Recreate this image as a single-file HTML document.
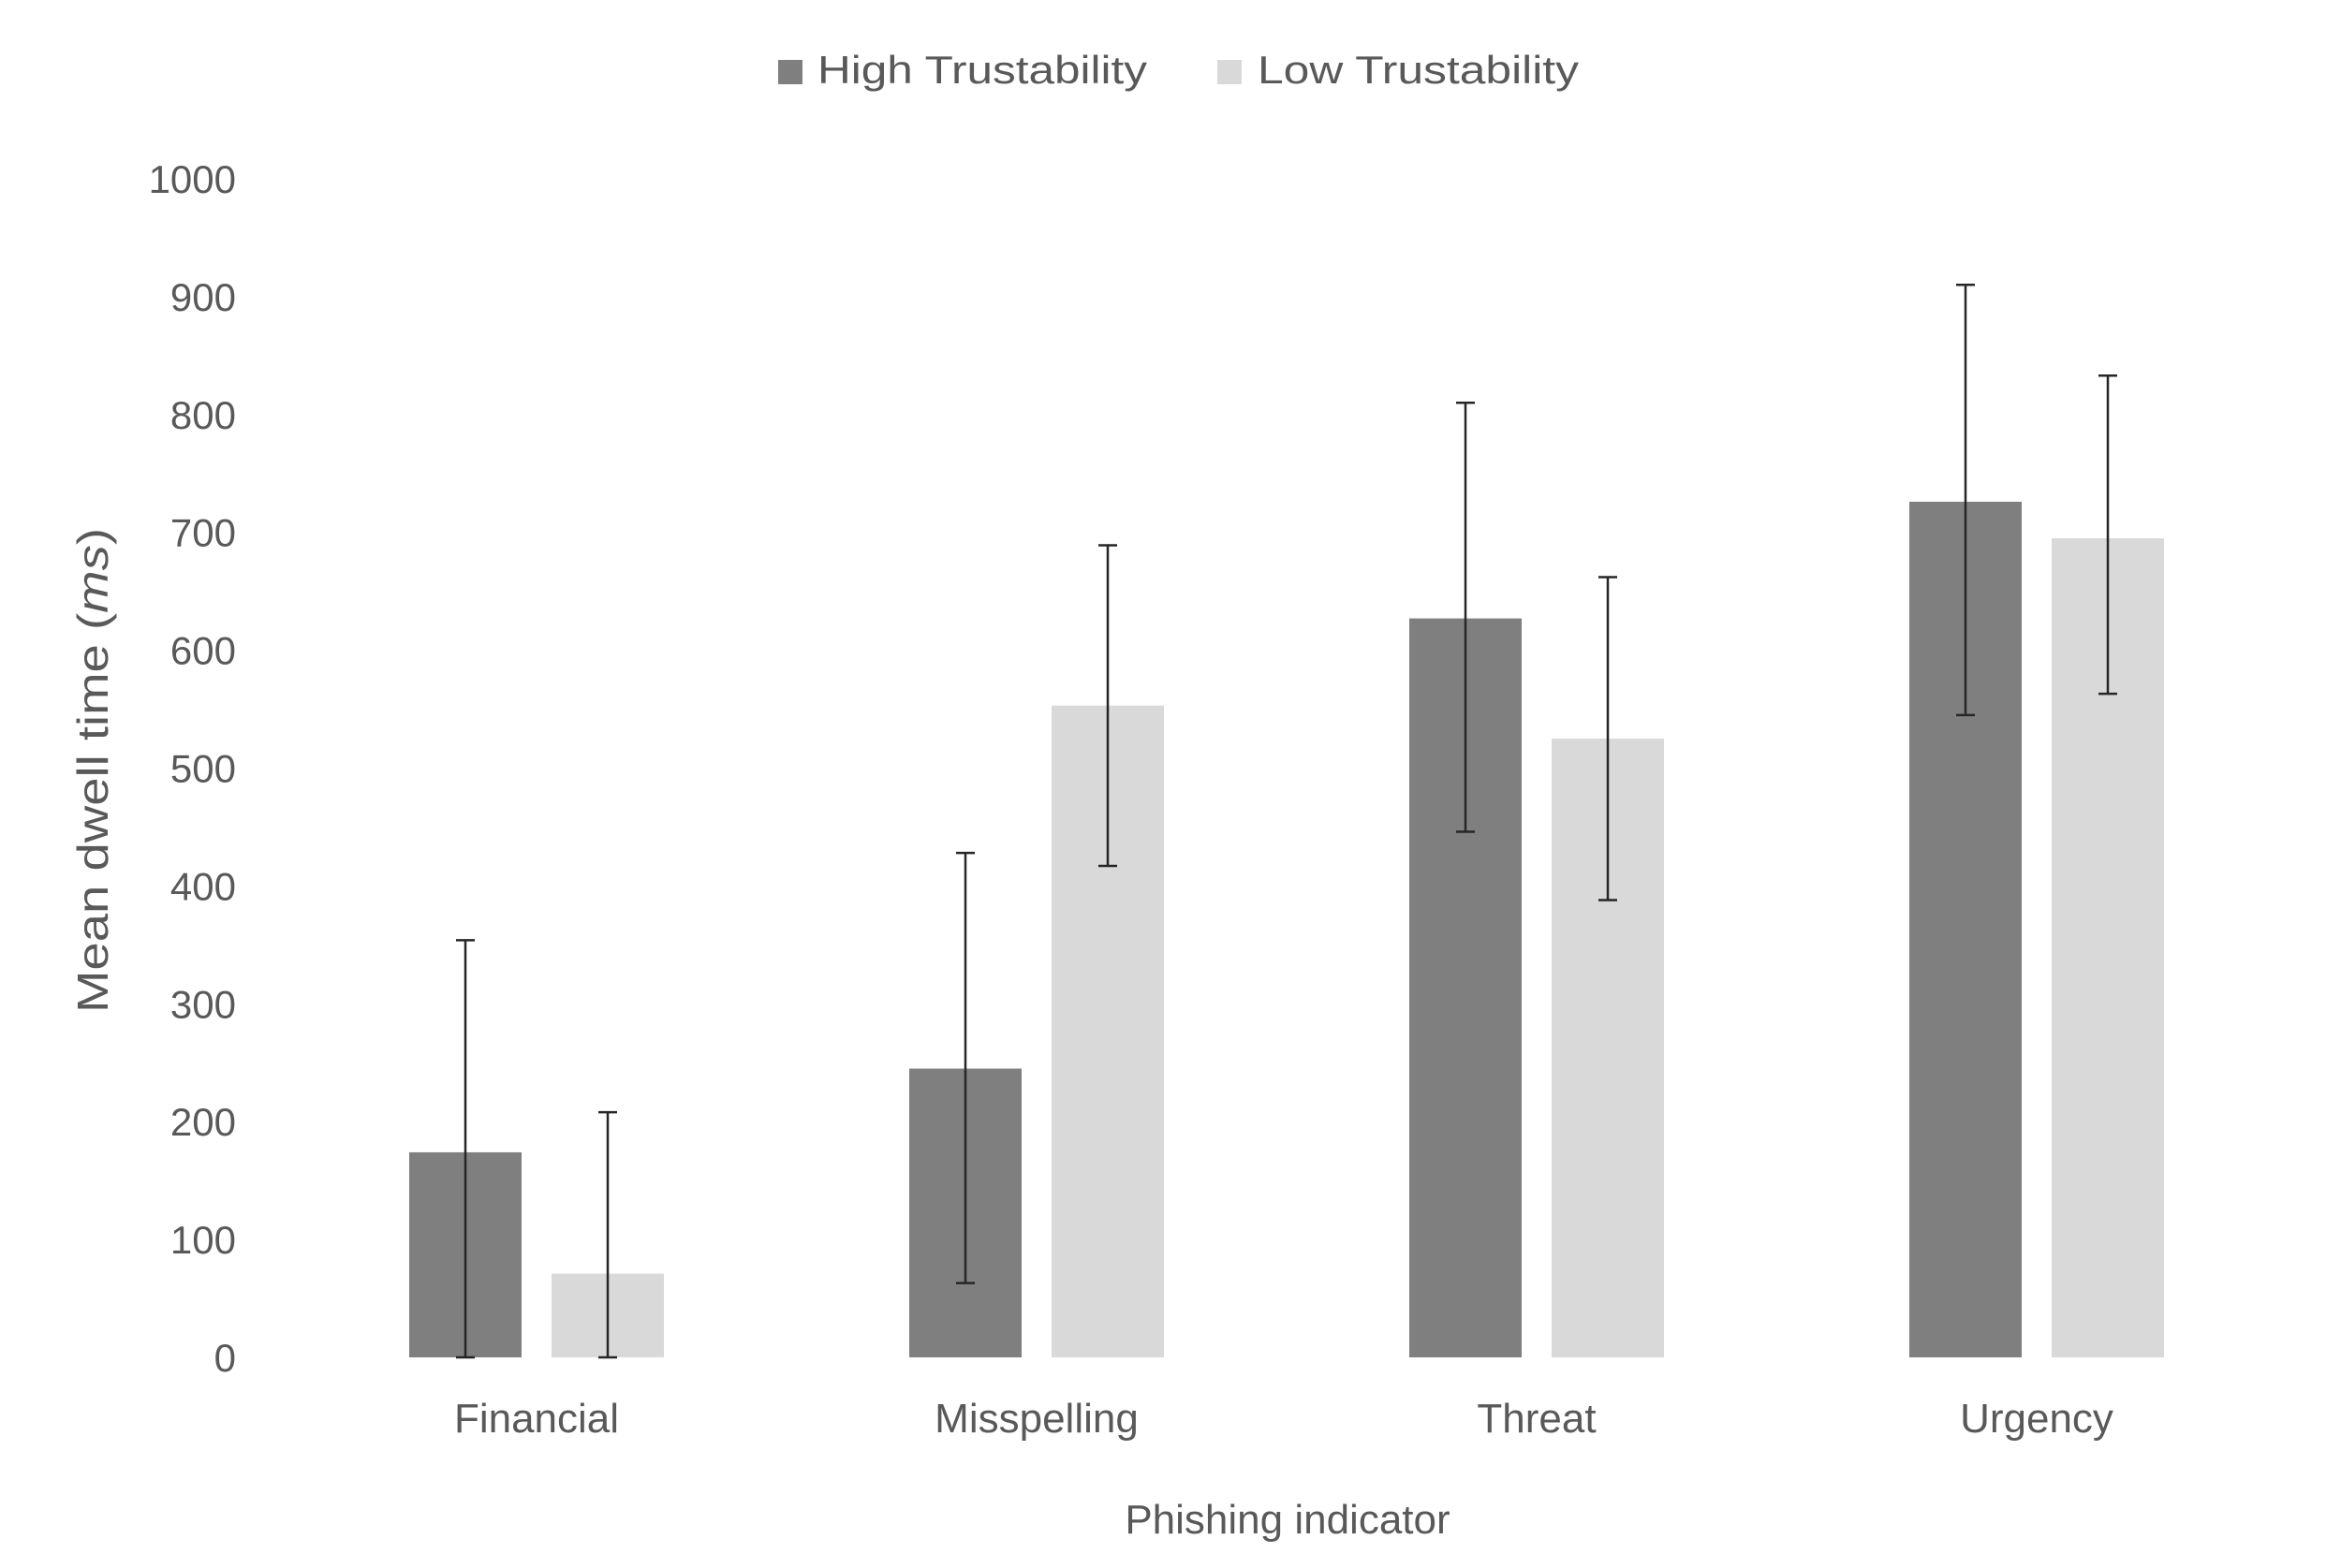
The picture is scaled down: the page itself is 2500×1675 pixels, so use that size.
<!DOCTYPE html>
<html><head><meta charset="utf-8"><style>
html,body{margin:0;padding:0;background:#fff;}
svg{display:block;font-family:"Liberation Sans",sans-serif;}
</style></head><body>
<svg id="chart" width="2500" height="1675" viewBox="0 0 2500 1675">
<g id="legend">
 <rect x="831" y="64" width="26" height="26" fill="#7f7f7f"/>
 <text x="873" y="89" font-size="42" fill="#595959" textLength="352" lengthAdjust="spacingAndGlyphs">High Trustability</text>
 <rect x="1300" y="64" width="26" height="26" fill="#d9d9d9"/>
 <text x="1343" y="89" font-size="42" fill="#595959" textLength="343" lengthAdjust="spacingAndGlyphs">Low Trustability</text>
</g>
<g id="yticks"></g><g id="bars"></g><g id="xlabels"></g>
<text transform="translate(115,823) rotate(-90)" text-anchor="middle" font-size="46" fill="#595959" textLength="518" lengthAdjust="spacingAndGlyphs">Mean dwell time (<tspan font-style="italic">ms</tspan>)</text>
<text x="1375" y="1638" text-anchor="middle" font-size="44" fill="#595959">Phishing indicator</text>
</svg>
<script>
const categories=["Financial","Misspelling","Threat","Urgency"];
const highValues=[174,245,627,726];
const highUpper=[354,428,810,910];
const highLower=[0,63,446,545];
const lowValues=[71,553,525,695];
const lowUpper=[208,689,662,833];
const lowLower=[0,417,388,563];
const yTicks=[0,100,200,300,400,500,600,700,800,900,1000];
const NS="http://www.w3.org/2000/svg";
const y0=1450,y1000=191;
function yScale(v){return y0-(y0-y1000)*v/1000;}
function xCenter(i){return 573+i*534;}
function mk(tag,attrs,parent){const e=document.createElementNS(NS,tag);for(const k in attrs)e.setAttribute(k,attrs[k]);parent.appendChild(e);return e;}
const yt=document.getElementById('yticks');
yTicks.forEach(t=>{const e=mk('text',{x:252,y:yScale(t)+15,'text-anchor':'end','font-size':42,fill:'#595959'},yt);


e.textContent=t;});
const bg=document.getElementById('bars');
function bar(cx,v,up,lo,color,name){
 const r=mk('rect',{x:cx-60,y:yScale(v),width:120,height:yScale(0)-yScale(v),fill:color},bg);
 
 
 const g=mk('g',{stroke:'#262626','stroke-width':2.5},bg);
 
 
 mk('line',{x1:cx,x2:cx,y1:yScale(up),y2:yScale(lo)},g);
 mk('line',{x1:cx-10,x2:cx+10,y1:yScale(up),y2:yScale(up)},g);
 mk('line',{x1:cx-10,x2:cx+10,y1:yScale(lo),y2:yScale(lo)},g);
}
const xl=document.getElementById('xlabels');
categories.forEach((c,i)=>{
 bar(xCenter(i)-76,highValues[i],highUpper[i],highLower[i],'#7f7f7f','bar-high-'+c.toLowerCase());
 bar(xCenter(i)+76,lowValues[i],lowUpper[i],lowLower[i],'#d9d9d9','bar-low-'+c.toLowerCase());
 const t=mk('text',{x:xCenter(i),y:1530,'text-anchor':'middle','font-size':44,fill:'#595959'},xl);
 
 
 t.textContent=c;
});
</script>
</body></html>
